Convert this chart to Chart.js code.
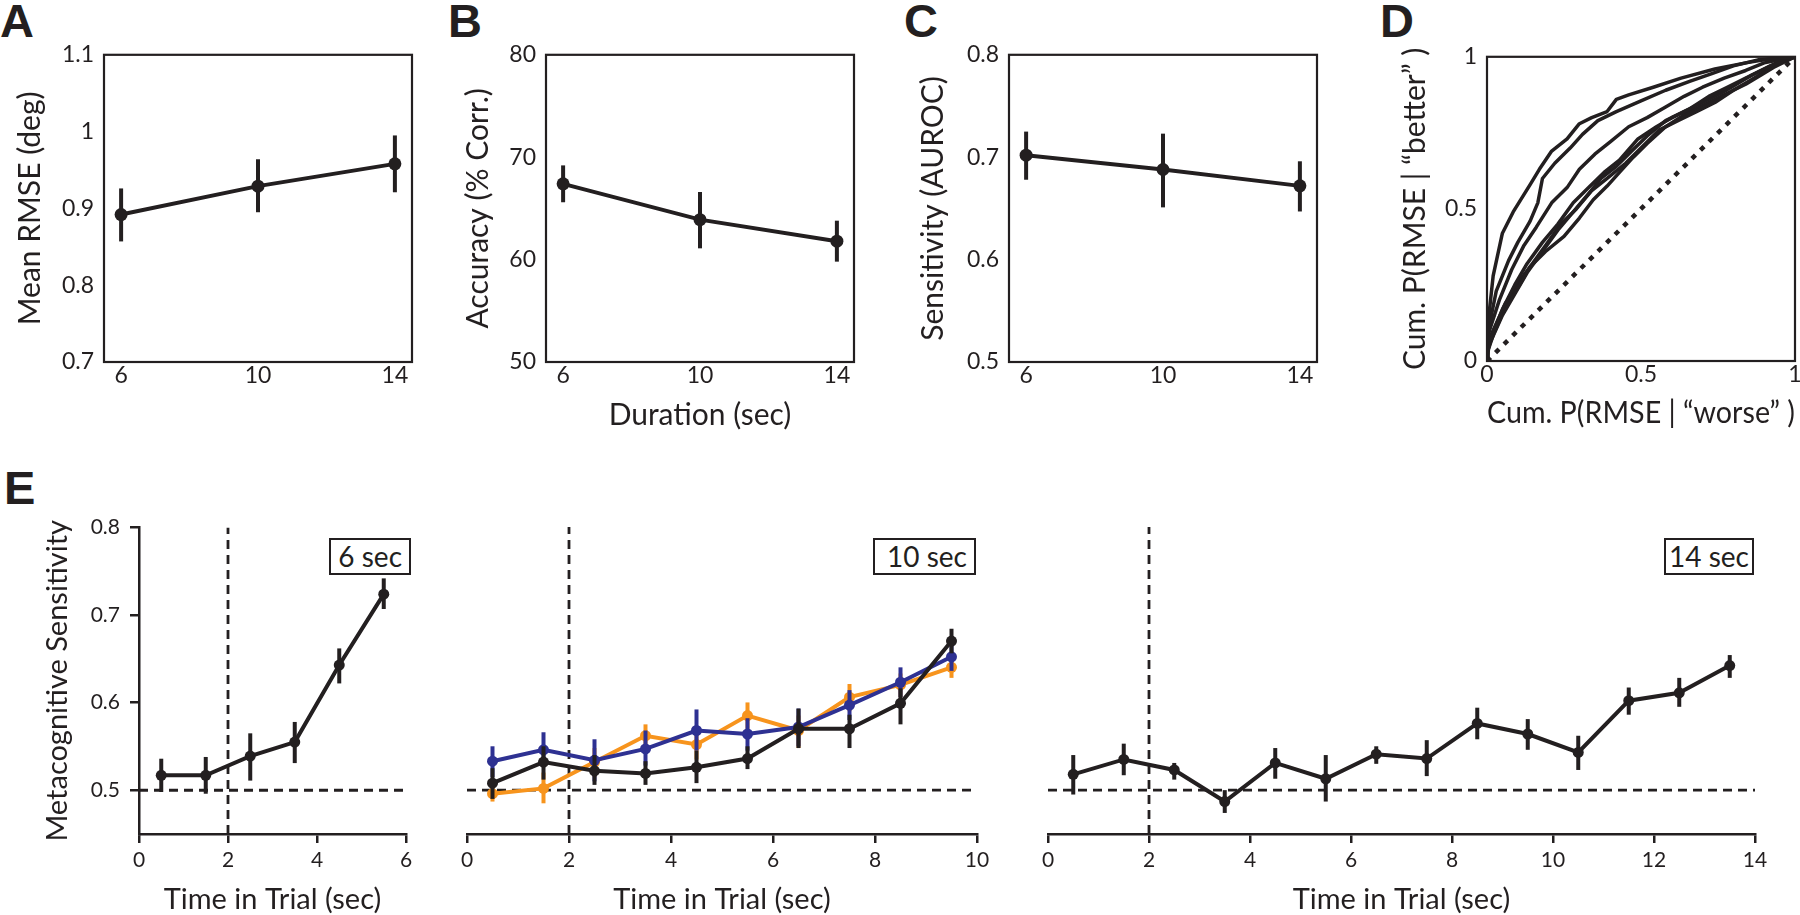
<!DOCTYPE html>
<html>
<head>
<meta charset="utf-8">
<script src="https://cdn.jsdelivr.net/npm/chart.js@4.4.1/dist/chart.umd.min.js"></script>
<style>
  html, body { margin: 0; padding: 0; background: #fff; overflow: hidden; }
  #fig { position: relative; width: 1800px; height: 915px; font-family: Lato, sans-serif; color: #231f20; }
  #fig canvas { position: absolute; }
  .letter { position: absolute; font: bold 47px "Liberation Sans", Arial, sans-serif; line-height: 47px; }
  .tag { position: absolute; top: 538px; height: 33px; border: 2.5px solid #231f20; font-size: 28px;
         line-height: 33px; padding: 0 7px; background: #fff; white-space: nowrap; }
</style>
</head>
<body>
<div id="fig">
  <div class="letter" style="left:0px;top:-3px">A</div>
  <div class="letter" style="left:448px;top:-3px">B</div>
  <div class="letter" style="left:904px;top:-3px">C</div>
  <div class="letter" style="left:1380px;top:-3px">D</div>
  <div class="letter" style="left:4px;top:464px">E</div>
  <div class="tag" style="right:1389px">6 sec</div>
  <div class="tag" style="right:824px;padding:0 7px 0 12px">10 sec</div>
  <div class="tag" style="right:46px;padding:0 3px">14 sec</div>
</div>
<script>
const INK = '#231f20';
const ORANGE = '#f7941d';
const BLUE = '#2e3192';
const FONT = 'Lato';

// --- A-C: trial duration conditions ---
const durations = [6, 10, 14];
const durationTicks = [6, 10, 14];

const rmseMean = [0.892, 0.929, 0.958];
const rmseLo   = [0.857, 0.895, 0.921];
const rmseHi   = [0.926, 0.964, 0.995];
const rmseTicks = [0.7, 0.8, 0.9, 1, 1.1];

const accMean = [67.4, 63.9, 61.8];
const accLo   = [65.6, 61.1, 59.8];
const accHi   = [69.2, 66.6, 63.8];
const accTicks = [50, 60, 70, 80];

const aurocMean = [0.702, 0.688, 0.672];
const aurocLo   = [0.678, 0.651, 0.647];
const aurocHi   = [0.725, 0.723, 0.696];
const aurocTicks = [0.5, 0.6, 0.7, 0.8];

// --- D: per-subject cumulative curves ---
const unitTicks = [0, 0.5, 1];
const rocCurve1 = [[0,0],[0,0.08],[0.004,0.13],[0.02,0.28],[0.05,0.42],[0.085,0.49],[0.14,0.58],[0.17,0.63],[0.21,0.69],[0.26,0.73],[0.30,0.78],[0.34,0.80],[0.39,0.82],[0.42,0.86],[0.46,0.875],[0.54,0.90],[0.63,0.93],[0.74,0.96],[0.84,0.98],[0.90,0.99],[1,1]];
const rocCurve2 = [[0,0],[0,0.07],[0.006,0.11],[0.03,0.23],[0.07,0.33],[0.1,0.39],[0.14,0.46],[0.165,0.52],[0.18,0.60],[0.22,0.65],[0.27,0.70],[0.31,0.745],[0.36,0.79],[0.42,0.82],[0.5,0.855],[0.58,0.89],[0.66,0.92],[0.73,0.945],[0.8,0.97],[0.88,0.99],[1,1]];
const rocCurve3 = [[0,0],[0,0.06],[0.008,0.1],[0.04,0.2],[0.08,0.3],[0.12,0.38],[0.16,0.44],[0.21,0.52],[0.26,0.57],[0.3,0.63],[0.35,0.68],[0.4,0.72],[0.46,0.77],[0.52,0.8],[0.58,0.835],[0.64,0.87],[0.7,0.9],[0.77,0.93],[0.84,0.955],[0.9,0.98],[1,1]];
const rocCurve4 = [[0,0],[0.002,0.04],[0.01,0.07],[0.05,0.17],[0.09,0.25],[0.13,0.32],[0.18,0.39],[0.23,0.45],[0.28,0.52],[0.33,0.57],[0.38,0.62],[0.43,0.66],[0.49,0.73],[0.55,0.77],[0.6,0.8],[0.66,0.83],[0.72,0.87],[0.78,0.9],[0.84,0.93],[0.9,0.96],[0.95,0.985],[1,1]];
const rocCurve5 = [[0,0],[0.002,0.03],[0.01,0.06],[0.05,0.15],[0.09,0.22],[0.13,0.29],[0.18,0.36],[0.23,0.43],[0.28,0.49],[0.33,0.55],[0.37,0.6],[0.42,0.64],[0.47,0.69],[0.52,0.74],[0.58,0.79],[0.64,0.82],[0.7,0.85],[0.76,0.88],[0.81,0.91],[0.86,0.94],[0.92,0.97],[1,1]];
const rocCurve6 = [[0,0],[0.003,0.05],[0.015,0.09],[0.06,0.19],[0.1,0.24],[0.14,0.31],[0.19,0.38],[0.24,0.45],[0.29,0.5],[0.34,0.56],[0.39,0.6],[0.45,0.65],[0.5,0.7],[0.56,0.76],[0.62,0.79],[0.68,0.82],[0.74,0.85],[0.8,0.89],[0.85,0.92],[0.9,0.95],[0.95,0.98],[1,1]];
const rocCurve7 = [[0,0],[0.005,0.04],[0.02,0.085],[0.052,0.16],[0.095,0.25],[0.14,0.31],[0.19,0.36],[0.25,0.41],[0.3,0.47],[0.345,0.53],[0.39,0.575],[0.43,0.62],[0.475,0.67],[0.52,0.715],[0.58,0.77],[0.65,0.815],[0.71,0.845],[0.78,0.88],[0.84,0.91],[0.89,0.94],[0.93,0.965],[1,1]];
const chanceDiagonal = [[0, 0], [1, 1]];

// --- E: metacognitive sensitivity over time in trial ---
const metaTicks = [0.5, 0.6, 0.7, 0.8];
const metaMin = 0.45, metaMax = 0.8;
const chanceLevel = 0.5;
const cueTime = 2;

const t6 = [0.5, 1.5, 2.5, 3.5, 4.5, 5.5];
const t6Ticks = [0, 2, 4, 6];
const meta6   = [0.517, 0.517, 0.539, 0.555, 0.643, 0.724];
const meta6Lo = [0.498, 0.496, 0.511, 0.531, 0.622, 0.707];
const meta6Hi = [0.536, 0.538, 0.565, 0.578, 0.662, 0.742];

const t10 = [0.5, 1.5, 2.5, 3.5, 4.5, 5.5, 6.5, 7.5, 8.5, 9.5];
const t10Ticks = [0, 2, 4, 6, 8, 10];
const meta10   = [0.508, 0.532, 0.522, 0.519, 0.526, 0.536, 0.570, 0.570, 0.599, 0.670];
const meta10Lo = [0.490, 0.512, 0.506, 0.506, 0.508, 0.524, 0.548, 0.548, 0.575, 0.656];
const meta10Hi = [0.525, 0.550, 0.540, 0.533, 0.545, 0.550, 0.593, 0.586, 0.616, 0.684];
const meta10Orange   = [0.496, 0.502, 0.532, 0.562, 0.552, 0.585, 0.568, 0.606, 0.620, 0.640];
const meta10OrangeLo = [0.487, 0.485, 0.515, 0.548, 0.535, 0.570, 0.548, 0.590, 0.606, 0.628];
const meta10OrangeHi = [0.505, 0.520, 0.548, 0.575, 0.568, 0.600, 0.585, 0.621, 0.633, 0.652];
const meta10Blue   = [0.533, 0.546, 0.534, 0.547, 0.568, 0.564, 0.572, 0.597, 0.623, 0.652];
const meta10BlueLo = [0.515, 0.528, 0.510, 0.528, 0.545, 0.545, 0.550, 0.580, 0.606, 0.636];
const meta10BlueHi = [0.550, 0.566, 0.558, 0.568, 0.592, 0.582, 0.593, 0.614, 0.640, 0.668];

const t14 = [0.5, 1.5, 2.5, 3.5, 4.5, 5.5, 6.5, 7.5, 8.5, 9.5, 10.5, 11.5, 12.5, 13.5];
const t14Ticks = [0, 2, 4, 6, 8, 10, 12, 14];
const meta14   = [0.518, 0.535, 0.523, 0.487, 0.531, 0.513, 0.541, 0.536, 0.576, 0.564, 0.543, 0.602, 0.611, 0.642];
const meta14Lo = [0.495, 0.517, 0.512, 0.474, 0.513, 0.487, 0.530, 0.516, 0.558, 0.546, 0.523, 0.586, 0.595, 0.628];
const meta14Hi = [0.540, 0.553, 0.531, 0.500, 0.548, 0.540, 0.550, 0.557, 0.594, 0.581, 0.562, 0.617, 0.628, 0.654];

// --- helpers ---
const pts = (xs, ys) => xs.map((x, i) => ({ x, y: ys[i] }));
const pairs = list => list.map(([x, y]) => ({ x, y }));
const fixedTicks = list => s => { s.ticks = list.map(v => ({ value: v })); };

function series(xs, ys, lo, hi, color, r, w) {
    return {
        data: pts(xs, ys), errLo: lo, errHi: hi, errWidth: w,
        borderColor: color, backgroundColor: color, borderWidth: w,
        pointRadius: r, pointBorderWidth: 0, pointBackgroundColor: color, tension: 0
    };
}

function refLine(points, dash, width) {
    return {
        data: pairs(points), borderColor: INK, borderWidth: width, borderDash: dash,
        borderCapStyle: 'butt', pointRadius: 0, tension: 0
    };
}

// vertical error bars drawn just under each series
const errorBarPlugin = {
    id: 'errorBars',
    beforeDatasetDraw(chart, args) {
        const ds = chart.data.datasets[args.index];
        if (!ds.errLo) return;
        const { ctx } = chart;
        const xs = args.meta.xScale, ys = args.meta.yScale;
        ctx.save();
        ctx.strokeStyle = ds.borderColor;
        ctx.lineWidth = ds.errWidth;
        ds.data.forEach((p, i) => {
            const x = xs.getPixelForValue(p.x);
            ctx.beginPath();
            ctx.moveTo(x, ys.getPixelForValue(ds.errLo[i]));
            ctx.lineTo(x, ys.getPixelForValue(ds.errHi[i]));
            ctx.stroke();
        });
        ctx.restore();
    }
};

// closed box around the plot area (panels A-D)
const framePlugin = {
    id: 'frame',
    afterDatasetsDraw(chart, args, opts) {
        if (!opts.on) return;
        const { ctx, chartArea: a } = chart;
        ctx.save();
        ctx.strokeStyle = INK;
        ctx.lineWidth = 2.2;
        ctx.strokeRect(a.left, a.top, a.right - a.left, a.bottom - a.top);
        ctx.restore();
    }
};

const fig = document.getElementById('fig');

function makePanel(box, yW, xH, datasets, scales, frame) {
    const pad = { left: 16, top: 22, right: 22, bottom: 6 };
    const w = pad.left + yW + (box.r - box.l) + pad.right;
    const h = pad.top + (box.b - box.t) + xH + pad.bottom;
    const cv = document.createElement('canvas');
    cv.style.left = (box.l - yW - pad.left) + 'px';
    cv.style.top = (box.t - pad.top) + 'px';
    cv.width = w;
    cv.height = h;
    fig.appendChild(cv);
    return new Chart(cv, {
        type: 'line',
        data: { datasets },
        options: {
            responsive: false,
            animation: false,
            events: [],
            layout: { padding: pad },
            scales,
            plugins: { legend: { display: false }, tooltip: { enabled: false }, frame: { on: frame } }
        },
        plugins: [errorBarPlugin, framePlugin]
    });
}

function boxScales(x, y, yW, xH) {
    const tickStyle = (pad) => ({
        font: { family: FONT, size: 23 }, color: INK, padding: pad,
        autoSkip: false, maxRotation: 0, callback: v => String(v)
    });
    const titleStyle = (text) => ({
        display: !!text, text, color: INK, padding: 0, font: { family: FONT, size: 30 }
    });
    return {
        x: {
            type: 'linear', min: x.min, max: x.max, afterBuildTicks: fixedTicks(x.ticks),
            afterFit: s => { s.height = xH; },
            grid: { display: false, drawTicks: false }, border: { display: false },
            ticks: tickStyle(0), title: titleStyle(x.title)
        },
        y: {
            type: 'linear', min: y.min, max: y.max, afterBuildTicks: fixedTicks(y.ticks),
            afterFit: s => { s.width = yW; },
            grid: { display: false, drawTicks: false }, border: { display: false },
            ticks: tickStyle(10), title: titleStyle(y.title)
        }
    };
}

function trialScales(tMax, tTicks, showY, yW) {
    const axisLine = { display: true, color: INK, width: 2.5 };
    const tickMarks = { display: true, drawOnChartArea: false, drawTicks: true, tickLength: 9, color: INK, lineWidth: 2.5 };
    const tickStyle = (pad) => ({
        font: { family: FONT, size: 21 }, color: INK, padding: pad,
        autoSkip: false, maxRotation: 0, callback: v => String(v)
    });
    return {
        x: {
            type: 'linear', min: 0, max: tMax, afterBuildTicks: fixedTicks(tTicks),
            afterFit: s => { s.height = 83; },
            grid: tickMarks, border: axisLine, ticks: tickStyle(5),
            title: { display: true, text: 'Time in Trial (sec)', color: INK, padding: 0, font: { family: FONT, size: 29 } }
        },
        y: {
            type: 'linear', min: metaMin, max: metaMax, display: showY, afterBuildTicks: fixedTicks(metaTicks),
            afterFit: s => { s.width = yW; },
            grid: tickMarks, border: axisLine, ticks: tickStyle(10),
            title: { display: true, text: 'Metacognitive Sensitivity', color: INK, padding: 0, font: { family: FONT, size: 29 } }
        }
    };
}

// --- A ---
makePanel({ l: 104, r: 412, t: 53, b: 362 }, 92, 71,
    [series(durations, rmseMean, rmseLo, rmseHi, INK, 6.5, 4)],
    boxScales({ min: 5.5, max: 14.5, ticks: durationTicks },
              { min: 0.7, max: 1.1, ticks: rmseTicks, title: 'Mean RMSE (deg)' }, 92, 71), true);

// --- B ---
makePanel({ l: 546, r: 854, t: 53, b: 362 }, 86, 71,
    [series(durations, accMean, accLo, accHi, INK, 6.5, 4)],
    boxScales({ min: 5.5, max: 14.5, ticks: durationTicks, title: 'Duration (sec)' },
              { min: 50, max: 80, ticks: accTicks, title: 'Accuracy (% Corr.)' }, 86, 71), true);

// --- C ---
makePanel({ l: 1009, r: 1317, t: 53, b: 362 }, 94, 71,
    [series(durations, aurocMean, aurocLo, aurocHi, INK, 6.5, 4)],
    boxScales({ min: 5.5, max: 14.5, ticks: durationTicks },
              { min: 0.5, max: 0.8, ticks: aurocTicks, title: 'Sensitivity (AUROC)' }, 94, 71), true);

// --- D ---
const dCurves = [rocCurve1, rocCurve2, rocCurve3, rocCurve4, rocCurve5, rocCurve6, rocCurve7].map(c => ({
    data: pairs(c), borderColor: INK, borderWidth: 3.5, borderJoinStyle: 'round', pointRadius: 0, tension: 0
}));
makePanel({ l: 1487, r: 1795, t: 55, b: 361 }, 90, 70,
    [...dCurves, refLine(chanceDiagonal, [5, 7], 4.5)],
    boxScales({ min: 0, max: 1, ticks: unitTicks, title: 'Cum. P(RMSE | \u201Cworse\u201D )' },
              { min: 0, max: 1, ticks: unitTicks, title: 'Cum. P(RMSE | \u201Cbetter\u201D )' }, 90, 70), true);

// --- E ---
const dash = [9, 6];
makePanel({ l: 139, r: 406, t: 527, b: 834 }, 99, 83, [
    series(t6, meta6, meta6Lo, meta6Hi, INK, 5.5, 4),
    refLine([[0, chanceLevel], [6, chanceLevel]], dash, 2.8),
    refLine([[cueTime, metaMin], [cueTime, metaMax]], dash, 2.8)
], trialScales(6, t6Ticks, true, 99), false);

makePanel({ l: 467, r: 977, t: 527, b: 834 }, 0, 83, [
    series(t10, meta10, meta10Lo, meta10Hi, INK, 5.5, 4),
    series(t10, meta10Blue, meta10BlueLo, meta10BlueHi, BLUE, 5.5, 4),
    series(t10, meta10Orange, meta10OrangeLo, meta10OrangeHi, ORANGE, 5.5, 4),
    refLine([[0, chanceLevel], [10, chanceLevel]], dash, 2.8),
    refLine([[cueTime, metaMin], [cueTime, metaMax]], dash, 2.8)
], trialScales(10, t10Ticks, false, 0), false);

makePanel({ l: 1048, r: 1755, t: 527, b: 834 }, 0, 83, [
    series(t14, meta14, meta14Lo, meta14Hi, INK, 5.5, 4),
    refLine([[0, chanceLevel], [14, chanceLevel]], dash, 2.8),
    refLine([[cueTime, metaMin], [cueTime, metaMax]], dash, 2.8)
], trialScales(14, t14Ticks, false, 0), false);
</script>
</body>
</html>
